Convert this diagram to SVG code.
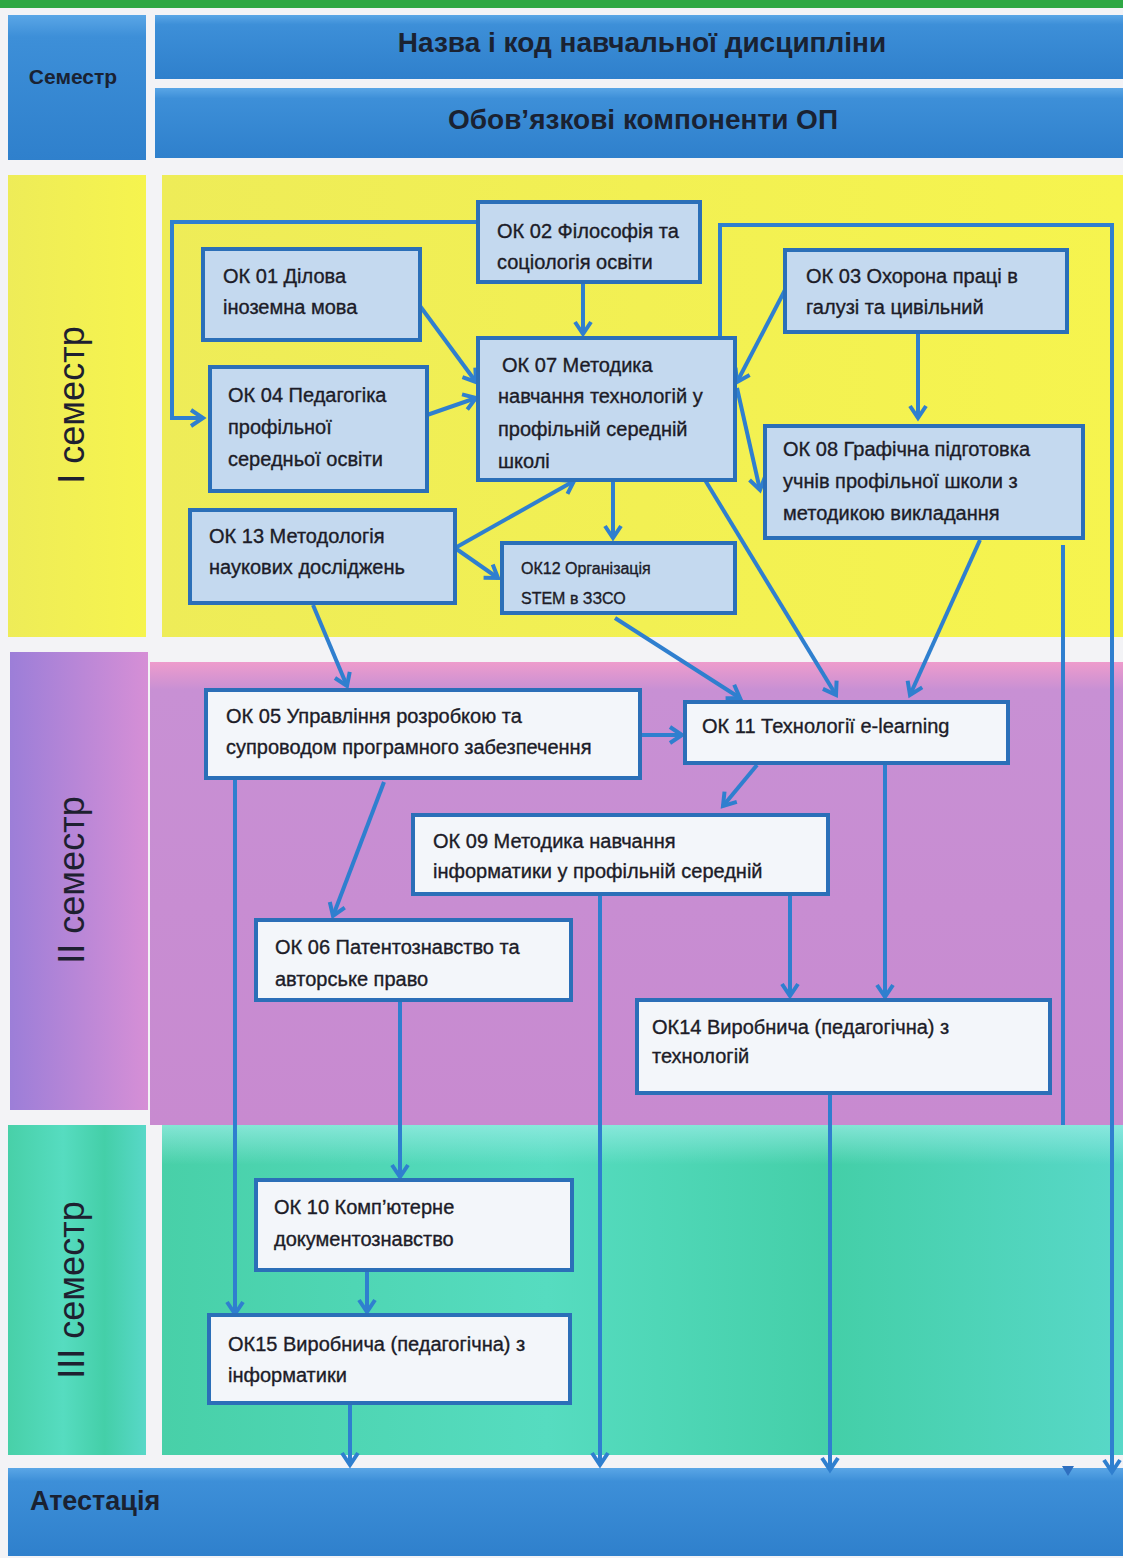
<svg xmlns="http://www.w3.org/2000/svg" width="1123" height="1558" viewBox="0 0 1123 1558">
<defs>
<linearGradient id="gBlue" x1="0" y1="0" x2="0" y2="1"><stop offset="0" stop-color="#5aa6e6"/><stop offset="0.15" stop-color="#3d8fd8"/><stop offset="1" stop-color="#2f80cc"/></linearGradient>
<linearGradient id="gYel" x1="0" y1="0" x2="1" y2="0"><stop offset="0" stop-color="#eeec58"/><stop offset="1" stop-color="#f6f44e"/></linearGradient>
<linearGradient id="gPurL" x1="0" y1="0" x2="1" y2="0"><stop offset="0" stop-color="#9c7ed8"/><stop offset="1" stop-color="#d68fd6"/></linearGradient>
<linearGradient id="gPur" x1="0" y1="0" x2="0" y2="1"><stop offset="0" stop-color="#ee9ccc"/><stop offset="0.06" stop-color="#c890d4"/><stop offset="1" stop-color="#c88ad0"/></linearGradient>
<linearGradient id="gTeal" x1="0" y1="0" x2="1" y2="0"><stop offset="0" stop-color="#48d0a8"/><stop offset="0.4" stop-color="#56dcc0"/><stop offset="0.7" stop-color="#44cfa8"/><stop offset="1" stop-color="#58d8c8"/></linearGradient>
<linearGradient id="gTealT" x1="0" y1="0" x2="0" y2="1"><stop offset="0" stop-color="#9eeee8" stop-opacity="0.7"/><stop offset="0.12" stop-color="#9eeee8" stop-opacity="0"/></linearGradient>
<marker id="arr" markerWidth="20" markerHeight="20" refX="15" refY="10" orient="auto" markerUnits="userSpaceOnUse"><path d="M3,2 L15,10 L3,18" fill="none" stroke="#2f7fcf" stroke-width="4"/></marker>
</defs>
<style>
.hd{font-family:"Liberation Sans",Arial,sans-serif;font-weight:bold;fill:#1a2232}
.sem{font-family:"Liberation Sans",Arial,sans-serif;font-size:36px;fill:#1e2030}
.n1 rect{fill:#c4d9ef;stroke:#2b6fb8;stroke-width:4}
.n2 rect{fill:#f3f6fa;stroke:#2b6fb8;stroke-width:4}
.n1 text,.n2 text{font-family:"Liberation Sans",Arial,sans-serif;font-size:20px;fill:#1c1c28;stroke:#1c1c28;stroke-width:0.35}
.c{fill:none;stroke:#2f7fcf;stroke-width:4;marker-end:url(#arr)}
.cn{fill:none;stroke:#2f7fcf;stroke-width:4}
</style>
<rect x="0" y="0" width="1123" height="1558" fill="#f3f3f6"/>
<rect x="0" y="0" width="1123" height="8" fill="#2ea844"/>
<g id="header">
<rect x="8" y="15" width="138" height="145" fill="url(#gBlue)"/>
<text class="hd" x="73" y="84" font-size="21" text-anchor="middle">Семестр</text>
<rect x="155" y="15" width="968" height="64" fill="url(#gBlue)"/>
<text class="hd" x="642" y="52" font-size="28" text-anchor="middle">Назва і код навчальної дисципліни</text>
<rect x="155" y="88" width="968" height="70" fill="url(#gBlue)"/>
<text class="hd" x="643" y="129" font-size="28" text-anchor="middle">Обов’язкові компоненти ОП</text>
</g>
<g id="semester1">
<rect x="8" y="175" width="138" height="462" fill="url(#gYel)"/>
<rect x="162" y="175" width="961" height="462" fill="url(#gYel)"/>
<text class="sem" transform="translate(84,405) rotate(-90)" text-anchor="middle">І семестр</text>
</g>
<g id="semester2">
<rect x="10" y="652" width="138" height="458" fill="url(#gPurL)"/>
<rect x="150" y="662" width="973" height="463" fill="url(#gPur)"/>
<text class="sem" transform="translate(84,880) rotate(-90)" text-anchor="middle">ІІ семестр</text>
</g>
<g id="semester3">
<rect x="8" y="1125" width="138" height="330" fill="url(#gTeal)"/>
<rect x="162" y="1125" width="961" height="330" fill="url(#gTeal)"/>
<rect x="162" y="1125" width="961" height="330" fill="url(#gTealT)"/>
<text class="sem" transform="translate(84,1290) rotate(-90)" text-anchor="middle">ІІІ семестр</text>
</g>
<g id="attestation">
<rect x="8" y="1468" width="1115" height="88" fill="url(#gBlue)"/>
<text class="hd" x="30" y="1510" font-size="27">Атестація</text>
</g>
<g id="connectors">
<polyline class="c" points="478,222 172,222 172,418 203,418"/>
<line class="c" x1="583" y1="282" x2="583" y2="334"/>
<line class="c" x1="420" y1="306" x2="476" y2="382"/>
<line class="c" x1="427" y1="415" x2="476" y2="398"/>
<line class="c" x1="455" y1="548" x2="574" y2="481"/>
<line class="c" x1="455" y1="548" x2="498" y2="578"/>
<line class="c" x1="613" y1="480" x2="613" y2="538"/>
<line class="c" x1="785" y1="290" x2="737" y2="382"/>
<line class="c" x1="737" y1="388" x2="760" y2="490"/>
<line class="c" x1="918" y1="332" x2="918" y2="418"/>
<polyline class="c" points="720,338 720,225 1112,225 1112,1472"/>
<line class="cn" x1="1063" y1="545" x2="1063" y2="1125"/>
<path d="M1062,1466 L1074,1466 L1068,1476 Z" fill="#2f6fc0"/>
<line class="c" x1="705" y1="480" x2="836" y2="695"/>
<line class="c" x1="615" y1="618" x2="740" y2="698"/>
<line class="c" x1="980" y1="540" x2="910" y2="695"/>
<line class="c" x1="313" y1="605" x2="347" y2="686"/>
<line class="c" x1="640" y1="735" x2="682" y2="735"/>
<line class="c" x1="757" y1="765" x2="723" y2="806"/>
<line class="c" x1="885" y1="765" x2="885" y2="997"/>
<line class="c" x1="790" y1="894" x2="790" y2="996"/>
<line class="c" x1="600" y1="896" x2="600" y2="1465"/>
<line class="c" x1="384" y1="782" x2="333" y2="916"/>
<line class="c" x1="235" y1="780" x2="235" y2="1314"/>
<line class="c" x1="400" y1="1002" x2="400" y2="1177"/>
<line class="c" x1="367" y1="1272" x2="367" y2="1312"/>
<line class="c" x1="350" y1="1405" x2="350" y2="1465"/>
<line class="c" x1="830" y1="1095" x2="830" y2="1470"/>
</g>
<g id="ok02" class="n1"><rect x="478" y="202" width="222" height="80"/><text x="497" y="238">ОК 02 Філософія та</text><text x="497" y="269">соціологія освіти</text></g>
<g id="ok01" class="n1"><rect x="203" y="249" width="217" height="91"/><text x="223" y="283">ОК 01  Ділова</text><text x="223" y="314">іноземна мова</text></g>
<g id="ok03" class="n1"><rect x="785" y="250" width="282" height="82"/><text x="806" y="283">ОК 03 Охорона праці в</text><text x="806" y="314">галузі та цивільний</text></g>
<g id="ok07" class="n1"><rect x="478" y="338" width="257" height="142"/><text x="502" y="372">ОК 07 Методика</text><text x="498" y="403">навчання технологій у</text><text x="498" y="436">профільній середній</text><text x="498" y="468">школі</text></g>
<g id="ok04" class="n1"><rect x="210" y="367" width="217" height="124"/><text x="228" y="402">ОК 04 Педагогіка</text><text x="228" y="434">профільної</text><text x="228" y="466">середньої освіти</text></g>
<g id="ok08" class="n1"><rect x="765" y="426" width="318" height="112"/><text x="783" y="456">ОК 08 Графічна підготовка</text><text x="783" y="488">учнів профільної школи з</text><text x="783" y="520">методикою викладання</text></g>
<g id="ok13" class="n1"><rect x="190" y="510" width="265" height="93"/><text x="209" y="543">ОК 13 Методологія</text><text x="209" y="574">наукових досліджень</text></g>
<g id="ok12" class="n1"><rect x="502" y="543" width="233" height="70"/><text x="521" y="574" style="font-size:16px">ОК12 Організація</text><text x="521" y="604" style="font-size:16px">STEM в ЗЗСО</text></g>
<g id="ok05" class="n2"><rect x="206" y="690" width="434" height="88"/><text x="226" y="723">ОК 05 Управління розробкою та</text><text x="226" y="754">супроводом програмного забезпечення</text></g>
<g id="ok11" class="n2"><rect x="685" y="702" width="323" height="61"/><text x="702" y="733">ОК 11 Технології e-learning</text></g>
<g id="ok09" class="n2"><rect x="413" y="815" width="415" height="79"/><text x="433" y="848">ОК 09 Методика навчання</text><text x="433" y="878">інформатики у профільній середній</text></g>
<g id="ok06" class="n2"><rect x="256" y="920" width="315" height="80"/><text x="275" y="954">ОК 06 Патентознавство та</text><text x="275" y="986">авторське право</text></g>
<g id="ok14" class="n2"><rect x="637" y="1000" width="413" height="93"/><text x="652" y="1034">ОК14 Виробнича (педагогічна) з</text><text x="652" y="1063">технологій</text></g>
<g id="ok10" class="n2"><rect x="256" y="1180" width="316" height="90"/><text x="274" y="1214">ОК 10 Комп’ютерне</text><text x="274" y="1246">документознавство</text></g>
<g id="ok15" class="n2"><rect x="209" y="1315" width="361" height="88"/><text x="228" y="1351">ОК15 Виробнича (педагогічна) з</text><text x="228" y="1382">інформатики</text></g>
</svg>
